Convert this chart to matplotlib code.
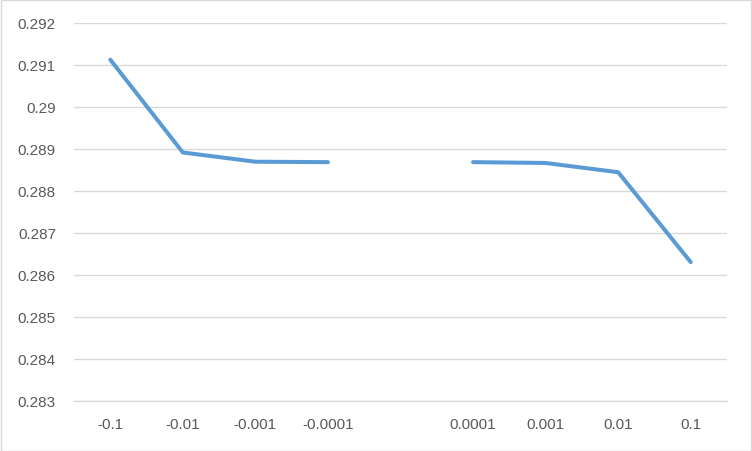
import numpy as np
import matplotlib
matplotlib.use("Agg")
import matplotlib.pyplot as plt
from matplotlib.patches import Rectangle

categories = ["-0.1", "-0.01", "-0.001", "-0.0001", "", "0.0001", "0.001", "0.01", "0.1"]
values = [0.29112, 0.28891, 0.28869, 0.28868, np.nan, 0.28868, 0.28866, 0.28844, 0.28630]
yticks = [0.283, 0.284, 0.285, 0.286, 0.287, 0.288, 0.289, 0.29, 0.291, 0.292]
ytick_labels = ["0.283", "0.284", "0.285", "0.286", "0.287", "0.288", "0.289", "0.29", "0.291", "0.292"]

W, H = 752, 452
fig = plt.figure(figsize=(W / 100, H / 100), dpi=100)
fig.patch.set_facecolor("white")
fig.patches.append(Rectangle((0.5 / W, 0.5 / H), 1 - 1.5 / W, 1 - 1.5 / H, transform=fig.transFigure,
                             fill=False, edgecolor="#D9D9D9", linewidth=1.0))

left, right = 74 / W, 727 / W
top, bottom = 1 - 23.7 / H, 1 - 401.7 / H
ax = fig.add_axes([left, bottom, right - left, top - bottom])

x = np.arange(len(categories))
ax.plot(x, values, color="#5B9BD5", linewidth=2.9, solid_capstyle="round", solid_joinstyle="round", zorder=3)

ax.set_xlim(-0.5, len(categories) - 0.5)
ax.set_ylim(0.283, 0.292)
ax.set_yticks(yticks)
ax.set_yticklabels(ytick_labels)
ax.set_xticks(x)
ax.set_xticklabels(categories)

ax.grid(axis="y", color="#D9D9D9", linewidth=1.0)
ax.set_axisbelow(True)
for s in ["top", "right", "left"]:
    ax.spines[s].set_visible(False)
ax.spines["bottom"].set_color("#D9D9D9")
ax.spines["bottom"].set_linewidth(1.0)
ax.tick_params(axis="both", length=0, colors="#595959", labelsize=11)
ax.tick_params(axis="y", pad=13)
ax.tick_params(axis="x", pad=12)
for lab in ax.get_xticklabels() + ax.get_yticklabels():
    lab.set_fontfamily(["Liberation Sans", "DejaVu Sans"])

fig.savefig("out.png", dpi=100, facecolor="white")
